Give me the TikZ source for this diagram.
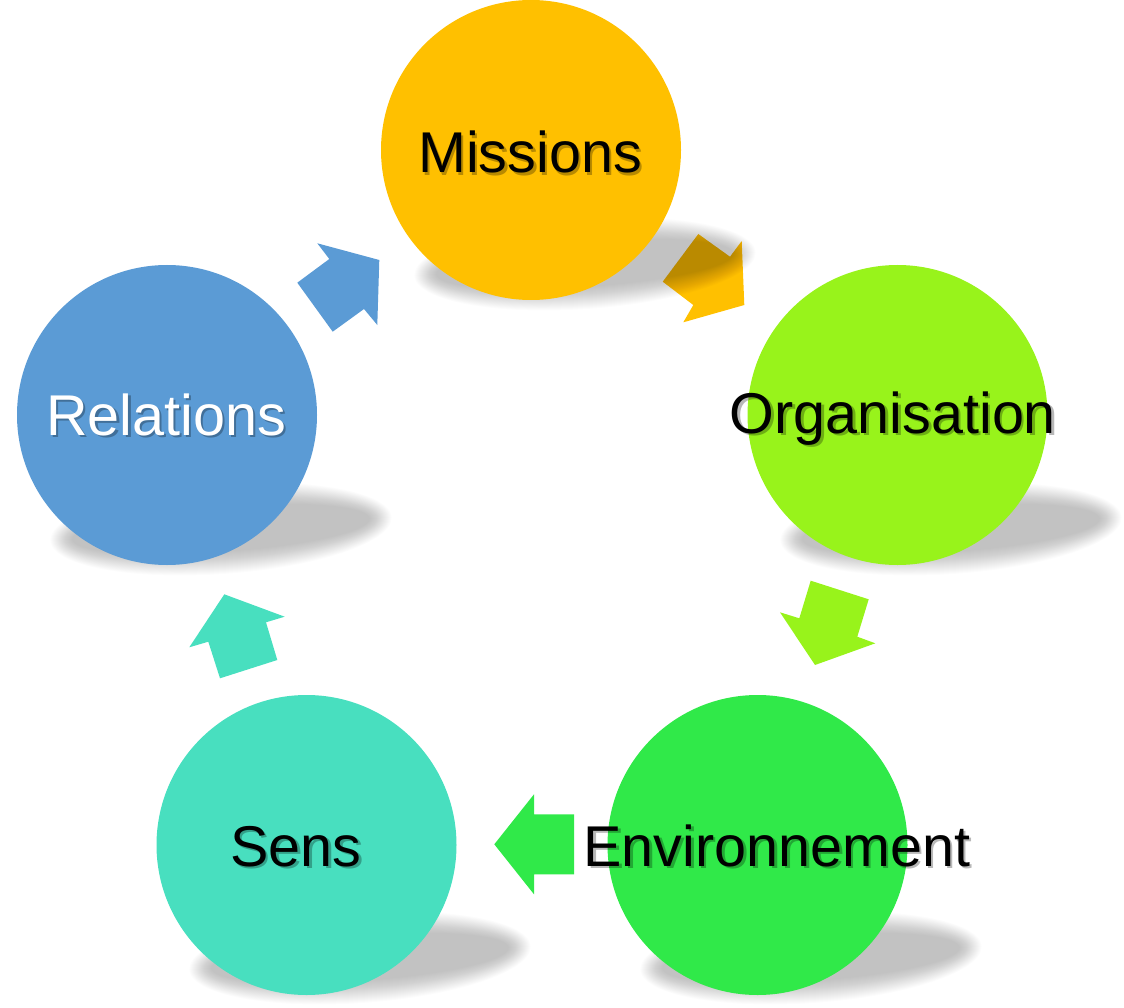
\documentclass[tikz,border=0pt]{standalone}
\usepackage{fontspec}
\setmainfont{Liberation Sans}
\definecolor{cMis}{HTML}{FFC000}
\definecolor{cOrg}{HTML}{98F31B}
\definecolor{cEnv}{HTML}{30E949}
\definecolor{cSen}{HTML}{48DFBF}
\definecolor{cRel}{HTML}{5B9BD5}
\newcommand\softshadow[2]{%
  \foreach \k in {0,...,22}{%
    \pgfmathsetmacro\rx{171-\k}%
    \pgfmathsetmacro\ry{45-\k}%
    \fill[black, fill opacity=0.011, rotate around={4:(#1,#2)}]
      (#1,#2) ellipse [x radius=\rx pt, y radius=\ry pt];
  }%
}
\newcommand\shadowtext[5]{% name, x, y, text, colour
  \node[lbl, text=black, text opacity=0.28] at (#2+2.5,#3+2.5) {#4};
  \node[lbl, text=#5] (#1) at (#2,#3) {#4};
}
\begin{document}
\begin{tikzpicture}[x=1pt,y=-1pt,
  disc/.style={circle, minimum size=300pt, inner sep=0pt, draw=none},
  lbl/.style={font=\fontsize{57.5}{60}\selectfont, inner sep=0pt, anchor=base},
  blockarrow/.style={draw=none}
]
\useasboundingbox (0,0) rectangle (1124,1008);

% block arrows
\fill[blockarrow, cMis] (698.3,234) -- (730,256.7) -- (741.7,241) -- (744.3,305)
  -- (683.3,322.3) -- (693.3,305) -- (662.7,281.7) -- cycle;
\fill[blockarrow, cOrg] (810.7,580.7) -- (868.7,599.3) -- (857.3,636.7) -- (875.3,643.3)
  -- (815,665) -- (780,612.3) -- (799.3,618.3) -- cycle;
\fill[blockarrow, cEnv] (574,814.3) -- (574,874.3) -- (534,874.3) -- (534,894.3)
  -- (494.3,844.3) -- (534,794.3) -- (534,814.3) -- cycle;
\fill[blockarrow, cSen] (220,678.3) -- (277.3,660) -- (266,622.3) -- (284.7,616.7)
  -- (224.3,594.3) -- (189.3,647.3) -- (208.3,641.7) -- cycle;
\fill[blockarrow, cRel] (297.3,282.7) -- (332.7,331.7) -- (364,309) -- (377.3,325)
  -- (379.3,260) -- (317.3,243.3) -- (329.3,259) -- cycle;

% soft shadows
\softshadow{585}{264}
\softshadow{951}{529}
\softshadow{811}{958}
\softshadow{360}{958}
\softshadow{221}{529}

% circles
\node[disc, fill=cMis] (mis) at (531,150) {};
\node[disc, fill=cOrg] (org) at (897.5,415) {};
\node[disc, fill=cEnv] (env) at (757.5,845) {};
\node[disc, fill=cSen] (sen) at (306.5,845) {};
\node[disc, fill=cRel] (rel) at (167,415) {};

% labels
\shadowtext{tmis}{530}{173}{Missions}{black}
\shadowtext{torg}{893}{433}{Organisation}{black}
\shadowtext{tenv}{777}{866}{Environnement}{black}
\shadowtext{tsen}{296}{866}{Sens}{black}
\shadowtext{trel}{166}{435}{Relations}{white}
\end{tikzpicture}
\end{document}
